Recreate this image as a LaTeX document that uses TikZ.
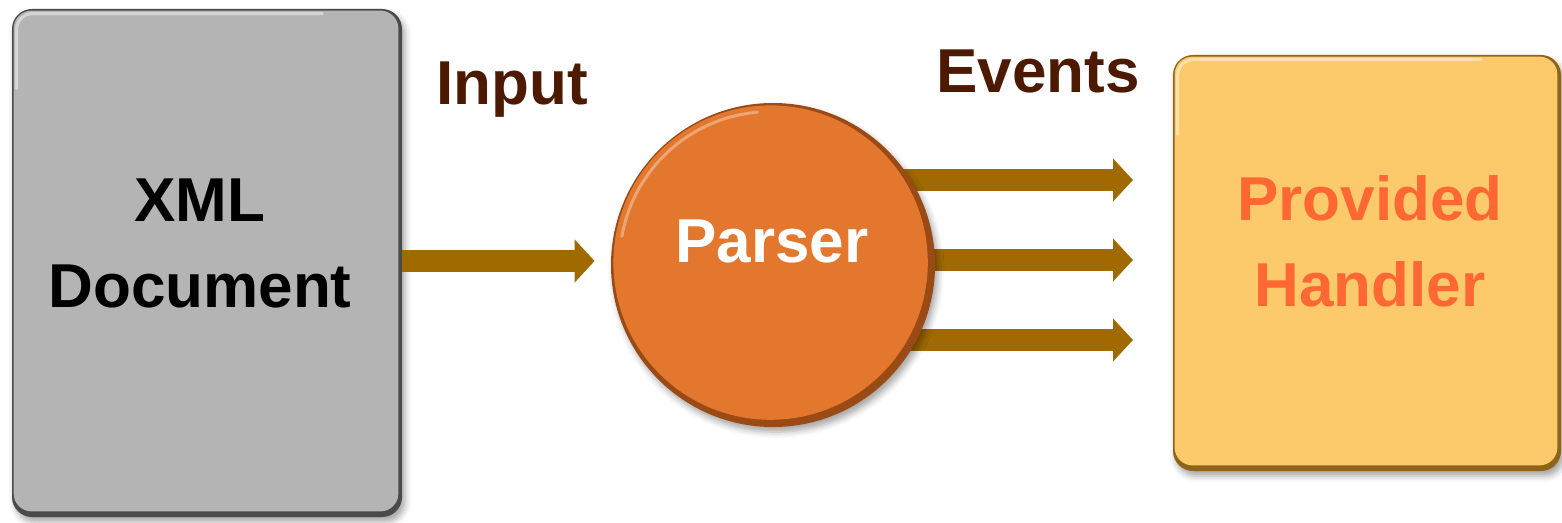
\documentclass[tikz,border=0pt]{standalone}
\usepackage{fontspec}
\setmainfont{Liberation Sans}
\usetikzlibrary{arrows.meta,shadows.blur}
\pgfdeclarelayer{back}
\pgfsetlayers{back,main}
\definecolor{docgray}{HTML}{B4B4B4}
\definecolor{docedge}{HTML}{4A4A4A}
\definecolor{parserorange}{HTML}{E3772E}
\definecolor{parseredge}{HTML}{9A4A14}
\definecolor{handleryellow}{HTML}{FCC96B}
\definecolor{handleredge}{HTML}{8E6518}
\definecolor{handlertext}{HTML}{FF6833}
\definecolor{flowbrown}{HTML}{A06A00}
\definecolor{labelbrown}{HTML}{4B1A00}
\begin{document}
\begin{tikzpicture}[x=0.5pt,y=-0.5pt,
  softshadow/.style={blur shadow={shadow xshift=1.5pt,shadow yshift=-2.5pt,shadow blur radius=3pt,shadow opacity=35}},
  panel/.style={rounded corners=10pt,inner sep=0pt,draw=none,softshadow},
  docbox/.style={panel,fill=docedge,minimum width=195pt,minimum height=254pt},
  handlerbox/.style={panel,fill=handleredge,minimum width=194pt,minimum height=208pt},
  parserdisc/.style={circle,fill=parseredge,draw=none,minimum size=162pt,inner sep=0pt,softshadow},
  gloss/.style={white,opacity=0.45,line width=1.5pt,line cap=round},
  bigtext/.style={font=\bfseries\fontsize{31}{43}\selectfont,align=center},
  flow/.style={line width=11pt,draw=flowbrown,-{Triangle[length=10pt,width=21pt]}}
]
\useasboundingbox (0,0) rectangle (1562,523);

% the three stages: dark rim first, lit face on top of it
\node[docbox] (xml) at (207,263) {};
\fill[docgray,rounded corners=9pt] ([shift={(2,2)}]xml.north west) rectangle ([shift={(-4,-6)}]xml.south east);
\draw[gloss,rounded corners=8pt] ([shift={(5,80)}]xml.north west) -- ([shift={(5,5)}]xml.north west) -- ([shift={(-80,5)}]xml.north east);

\node[parserdisc] (parser) at (773,265) {};
\fill[parserorange] ([shift={(-1.2pt,1.2pt)}]parser.center) circle[radius=78.6pt];
\draw[gloss,opacity=0.35] ([shift={(-1.2pt,1.2pt)}]parser.center) ++(170:75.5pt) arc[start angle=170,end angle=95,radius=75.5pt];

\node[handlerbox] (handler) at (1367,263) {};
\fill[handleryellow,rounded corners=9pt] ([shift={(2,2)}]handler.north west) rectangle ([shift={(-4,-6)}]handler.south east);
\draw[gloss,rounded corners=8pt] ([shift={(5,80)}]handler.north west) -- ([shift={(5,5)}]handler.north west) -- ([shift={(-80,5)}]handler.north east);

% their captions
\node[bigtext,text=black] (xmltext) at (200,243) {XML\\Document};
\node[bigtext,text=white,anchor=base] (parsertext) at (772,263) {Parser};
\node[bigtext,text=handlertext] (handlertxt) at (1370,241) {Provided\\Handler};

% labels over the flows
\node[bigtext,text=labelbrown,anchor=base] (inputlabel) at (512,105) {Input};
\node[bigtext,text=labelbrown,anchor=base] (eventslabel) at (1038,93) {Events};

% document fed into the parser
\draw[flow,shorten >=8pt] ([yshift=1pt]xml.east) -- ([yshift=1pt]xml.east -| parser.west);

% events leaving the parser, starting beneath the disc
\coordinate (ev1) at (1133,180);
\coordinate (ev2) at (1133,260);
\coordinate (ev3) at (1133,340);
\begin{pgfonlayer}{back}
  \draw[flow] (parser.center |- ev1) -- (ev1);
  \draw[flow] (parser.center |- ev2) -- (ev2);
  \draw[flow] (parser.center |- ev3) -- (ev3);
\end{pgfonlayer}
\end{tikzpicture}
\end{document}
